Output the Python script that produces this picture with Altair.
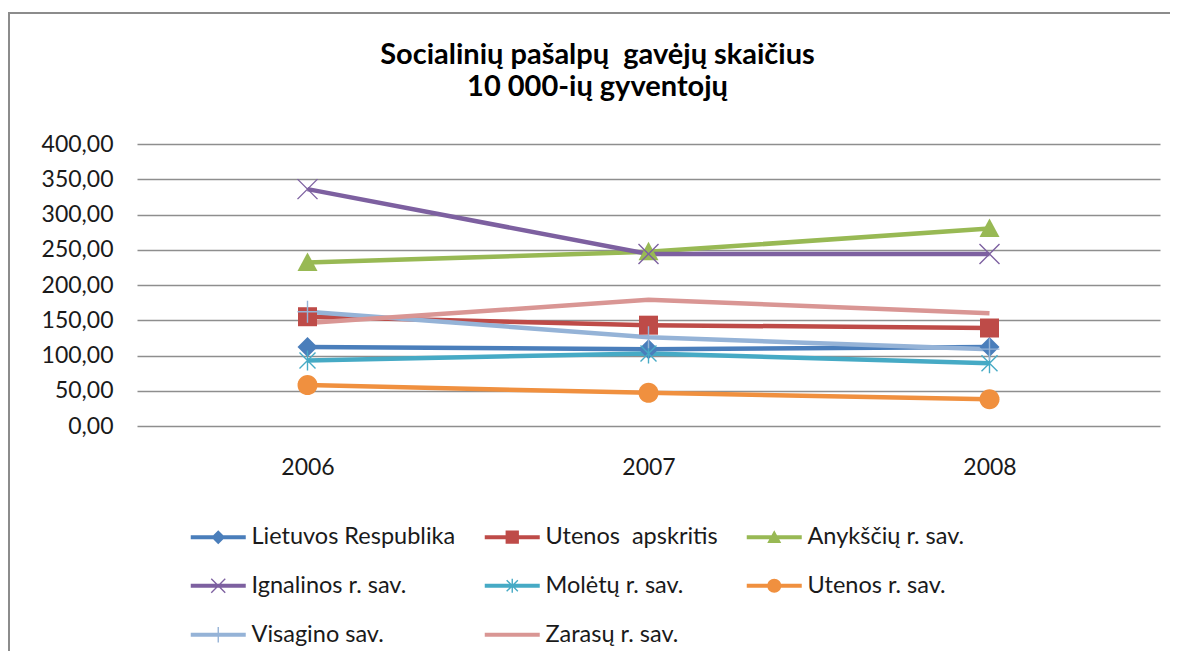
import math
import altair as alt
import pandas as pd

# ---------------- data ----------------
years = ["2006", "2007", "2008"]
series = [
    "Lietuvos Respublika",
    "Utenos\u00a0 apskritis",
    "Anykščių r. sav.",
    "Ignalinos r. sav.",
    "Molėtų r. sav.",
    "Utenos r. sav.",
    "Visagino sav.",
    "Zarasų r. sav.",
]
v_lietuvos = [112, 109, 112]
v_utenos_apskr = [155, 143, 139]
v_anyksciu = [232, 247, 280]
v_ignalinos = [336, 244, 244]
v_moletu = [93, 103, 89]
v_utenos_r = [58, 47, 38]
v_visagino = [162, 126, 109]
v_zarasu = [146, 179, 160]
values = [v_lietuvos, v_utenos_apskr, v_anyksciu, v_ignalinos,
          v_moletu, v_utenos_r, v_visagino, v_zarasu]
y_ticks = [0, 50, 100, 150, 200, 250, 300, 350, 400]
title_lines = ["Socialinių pašalpų\u00a0 gavėjų skaičius", "10 000-ių gyventojų"]

colors = ["#4a7ebb", "#be4b48", "#98b954", "#7d60a0",
          "#46aac5", "#f0903f", "#95b3d7", "#d99694"]
markers = ["diamond", "square", "triangle", "x", "star", "circle", "plus", "none"]

rows = []
for name, vals in zip(series, values):
    for yr, v in zip(years, vals):
        rows.append({"series": name, "year": yr, "value": v})
df = pd.DataFrame(rows)

# ---------------- marker paths ----------------
def bar(x1, y1, x2, y2, t):
    dx, dy = x2 - x1, y2 - y1
    L = math.hypot(dx, dy)
    nx, ny = -dy / L * t, dx / L * t
    return [(x1 + nx, y1 + ny), (x2 + nx, y2 + ny), (x2 - nx, y2 - ny), (x1 - nx, y1 - ny)]

def circ(cx, cy, r, n=32):
    return [(cx + r * math.cos(2 * math.pi * i / n), cy + r * math.sin(2 * math.pi * i / n)) for i in range(n)]

def shape_polys(kind, cx, cy, s, t):
    if kind == "diamond":
        return [[(cx, cy - s), (cx + s, cy), (cx, cy + s), (cx - s, cy)]]
    if kind == "square":
        a = s * 0.95
        return [[(cx - a, cy - a), (cx + a, cy - a), (cx + a, cy + a), (cx - a, cy + a)]]
    if kind == "triangle":
        return [[(cx, cy - s), (cx + s, cy + 0.85 * s), (cx - s, cy + 0.85 * s)]]
    if kind == "x":
        return [bar(cx - s, cy - s, cx + s, cy + s, t), bar(cx - s, cy + s, cx + s, cy - s, t)]
    if kind == "star":
        a = s * 0.8
        return [bar(cx - a, cy - a, cx + a, cy + a, t), bar(cx - a, cy + a, cx + a, cy - a, t),
                bar(cx, cy - s, cx, cy + s, t)]
    if kind == "plus":
        return [bar(cx, cy - s * 1.1, cx, cy + s * 1.1, t), bar(cx - s, cy, cx + s, cy, t)]
    if kind == "circle":
        return [circ(cx, cy, s)]
    return []

def to_path(polys):
    out = []
    for p in polys:
        area = sum(p[i][0] * p[(i + 1) % len(p)][1] - p[(i + 1) % len(p)][0] * p[i][1] for i in range(len(p)))
        if area < 0:
            p = p[::-1]
        out.append("M" + "L".join(f"{x:.3f},{y:.3f}" for x, y in p) + "Z")
    return "".join(out) if out else "M0,0Z"

mark_paths = [to_path(shape_polys(k, 0, 0, 1.0, 0.07)) for k in markers]
legend_paths = [to_path([bar(-4.5, 0, 1.0, 0, 0.2)] + shape_polys(k, -1.75, 0, 0.7, 0.07)) for k in markers]

FONT = "Lato"

# ---------------- chart ----------------
base = alt.Chart(df)

x_enc = alt.X("year:N", scale=alt.Scale(type="point", padding=0.5), sort=years,
              axis=alt.Axis(title=None, labelAngle=0, domain=False, ticks=False, grid=False,
                            labelPadding=30, labelFontSize=23, labelFont=FONT, labelColor="#1a1a1a"))
y_enc = alt.Y("value:Q", scale=alt.Scale(domain=[0, 400], nice=False, zero=True),
              axis=alt.Axis(title=None, values=y_ticks, domain=False, ticks=False, labelOverlap=False,
                            labelExpr="replace(format(datum.value, '.2f'), '.', ',')",
                            labelPadding=24, labelFontSize=23, labelFont=FONT, labelColor="#1a1a1a",
                            gridColor="#8e8e8e", gridWidth=1.4))

color_scale = alt.Scale(domain=series, range=colors)

lines = base.mark_line(strokeWidth=4.5).encode(
    x=x_enc, y=y_enc,
    color=alt.Color("series:N", scale=color_scale, legend=None),
    detail="series:N",
)

points = base.transform_filter(alt.datum.series != series[-1]).mark_point(
    filled=True, size=400, opacity=1, strokeWidth=0
).encode(
    x=x_enc, y=y_enc,
    color=alt.Color("series:N", scale=color_scale, legend=None),
    shape=alt.Shape("series:N", scale=alt.Scale(domain=series, range=mark_paths), legend=None),
)

leg = alt.Legend(title=None, orient="none", legendX=87, legendY=381, direction="horizontal",
                 columns=3, columnPadding=28, rowPadding=24, padding=0, gridAlign="each",
                 labelFont=FONT, labelFontSize=23.5, labelColor="#1a1a1a", labelLimit=500,
                 labelOffset=4, symbolSize=400, symbolStrokeWidth=0, symbolOpacity=1)

legend_layer = base.mark_point(filled=True, size=400, opacity=0, strokeWidth=0).encode(
    x=x_enc, y=y_enc,
    color=alt.Color("series:N", scale=color_scale, legend=leg),
    shape=alt.Shape("series:N", scale=alt.Scale(domain=series, range=legend_paths), legend=leg),
)

frame_df = pd.DataFrame({"a": [0]})
frame_left = alt.Chart(frame_df).mark_rule(color="#8c8c8c", strokeWidth=2).encode(
    x=alt.value(-128), y=alt.value(-132), y2=alt.value(520))
frame_top = alt.Chart(frame_df).mark_rule(color="#8c8c8c", strokeWidth=2).encode(
    x=alt.value(-129), x2=alt.value(1040), y=alt.value(-131))

chart = alt.layer(frame_left, frame_top, lines, points, legend_layer).resolve_scale(
    color="independent", shape="independent"
).properties(
    width=1023, height=282,
    padding={"left": 129, "top": 136, "right": 10, "bottom": 225},
    autosize=alt.AutoSizeParams(type="none"),
    title=alt.TitleParams(title_lines, font=FONT, fontSize=29, fontWeight="bold", color="#000000",
                          anchor="middle", dx=-51, offset=-91, lineHeight=32),
).configure_view(stroke=None)

chart.save("out.html", embed_options={"renderer": "svg", "actions": False})
